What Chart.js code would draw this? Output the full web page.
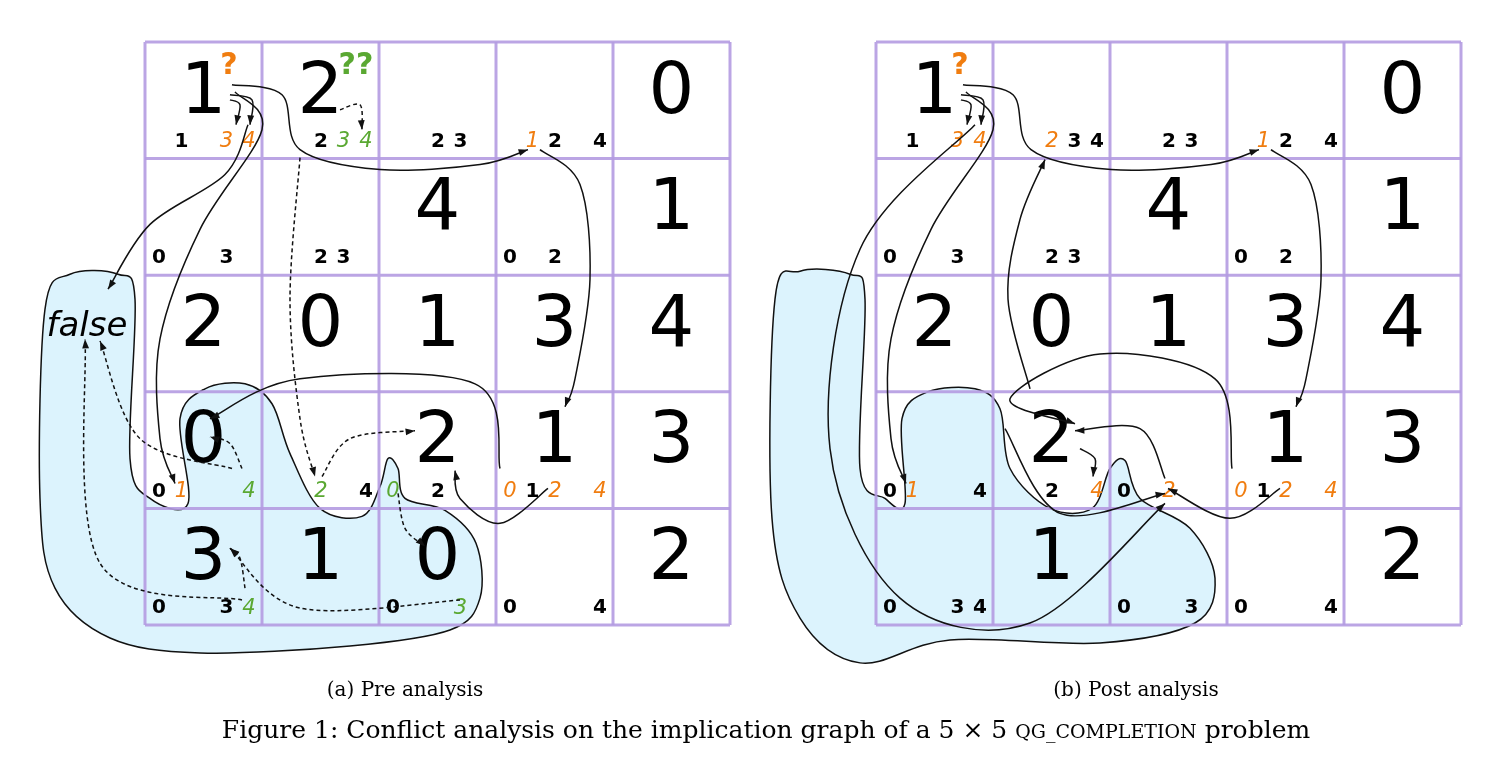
<!DOCTYPE html>
<html><head><meta charset="utf-8">
<script src="https://cdn.jsdelivr.net/npm/chart.js@4.4.0/dist/chart.umd.min.js"></script>
<style>html,body{margin:0;background:#fff}#c{display:block}</style>
</head><body>
<canvas id="c" width="1504" height="763"></canvas>
<script>
// diagram units: one cell = 117 units, grids start at 145 (left) and 876 (right)
const gridLeft = [145, 876];
const cell = 117;

// big digits per grid, row by row ('' = empty)
const bigLeft = [['1','2','','','0'],['','','4','','1'],['2','0','1','3','4'],['0','','2','1','3'],['3','1','0','','2']];
const bigRight = [['1','','','','0'],['','','4','','1'],['2','0','1','3','4'],['','2','','1','3'],['','1','','','2']];

// candidates: [row, col, digit, colour k=black o=orange g=green]
const candLeft = [
  [0,0,1,'k'],[0,0,3,'o'],[0,0,4,'o'],[0,1,2,'k'],[0,1,3,'g'],[0,1,4,'g'],[0,2,2,'k'],[0,2,3,'k'],
  [0,3,1,'o'],[0,3,2,'k'],[0,3,4,'k'],[1,0,0,'k'],[1,0,3,'k'],[1,1,2,'k'],[1,1,3,'k'],[1,3,0,'k'],[1,3,2,'k'],
  [3,0,0,'k'],[3,0,1,'o'],[3,0,4,'g'],[3,1,2,'g'],[3,1,4,'k'],[3,2,0,'g'],[3,2,2,'k'],
  [3,3,0,'o'],[3,3,1,'k'],[3,3,2,'o'],[3,3,4,'o'],[4,0,0,'k'],[4,0,3,'k'],[4,0,4,'g'],[4,2,0,'k'],[4,2,3,'g'],[4,3,0,'k'],[4,3,4,'k']];
const candRight = [
  [0,0,1,'k'],[0,0,3,'o'],[0,0,4,'o'],[0,1,2,'o'],[0,1,3,'k'],[0,1,4,'k'],[0,2,2,'k'],[0,2,3,'k'],
  [0,3,1,'o'],[0,3,2,'k'],[0,3,4,'k'],[1,0,0,'k'],[1,0,3,'k'],[1,1,2,'k'],[1,1,3,'k'],[1,3,0,'k'],[1,3,2,'k'],
  [3,0,0,'k'],[3,0,1,'o'],[3,0,4,'k'],[3,1,2,'k'],[3,1,4,'o'],[3,2,0,'k'],[3,2,2,'o'],
  [3,3,0,'o'],[3,3,1,'k'],[3,3,2,'o'],[3,3,4,'o'],[4,0,0,'k'],[4,0,3,'k'],[4,0,4,'k'],[4,2,0,'k'],[4,2,3,'k'],[4,3,0,'k'],[4,3,4,'k']];

// conflict regions (outline points)
const blobLeft = [[45,310],[70,275],[118,275],[135,300],[130,460],[150,500],[188,505],[180,420],[205,390],[245,385],[272,405],[290,455],[320,510],[362,518],[380,488],[388,460],[398,470],[405,500],[445,512],[476,545],[480,600],[450,632],[350,648],[200,655],[110,640],[55,590],[40,500]];
const blobRight = [[775,300],[800,272],[850,275],[865,300],[860,470],[885,500],[905,505],[902,420],[928,393],[975,390],[1000,410],[1010,470],[1050,510],[1092,510],[1110,470],[1125,462],[1140,500],[1190,530],[1215,580],[1195,625],[1100,645],[950,642],[860,665],[800,620],[772,520]];

// implication arrows [points, dashed]
const arrowsLeft = [
  [[[248,125],[225,175],[150,225],[108,290]],false],
  [[[235,92],[262,130],[200,230],[160,340],[160,440],[175,485]],false],
  [[[232,85],[282,95],[300,150],[380,170],[480,165],[528,150]],false],
  [[[540,150],[580,185],[590,280],[575,380],[565,408]],false],
  [[[500,470],[475,385],[300,380],[210,420]],false],
  [[[548,490],[500,525],[460,500],[455,472]],false],
  [[[300,158],[290,300],[300,420],[315,478]],true],
  [[[322,478],[350,440],[415,432]],true],
  [[[398,495],[405,530],[425,548]],true],
  [[[242,602],[100,565],[85,340]],true],
  [[[232,470],[140,440],[100,342]],true],
  [[[242,470],[230,445],[210,438]],true],
  [[[245,590],[240,560],[230,550]],true],
  [[[460,602],[300,610],[230,550]],true],
  [[[340,110],[360,105],[362,130]],true],
  [[[230,100],[240,105],[236,125]],false],
  [[[230,95],[252,100],[250,125]],false]];
const arrowsRight = [
  [[[966,92],[993,130],[931,230],[891,340],[891,440],[906,485]],false],
  [[[963,85],[1013,95],[1031,150],[1111,170],[1211,165],[1259,150]],false],
  [[[1271,150],[1311,185],[1321,280],[1306,380],[1296,408]],false],
  [[[1232,470],[1215,380],[1100,355],[1010,400],[1075,425]],false],
  [[[1280,490],[1230,520],[1168,490]],false],
  [[[1030,390],[1008,300],[1020,220],[1045,160]],false],
  [[[975,125],[860,250],[830,450],[900,600],[1030,625],[1165,505]],false],
  [[[1005,430],[1060,515],[1165,495]],false],
  [[[1165,480],[1140,430],[1075,432]],false],
  [[[1080,450],[1095,460],[1093,478]],false],
  [[[961,100],[971,105],[967,125]],false],
  [[[961,95],[983,100],[981,125]],false]];

const colours = {k: '#000', o: '#f07d10', g: '#5aa832'};

function spline(ctx, pts, closed) {
  const n = pts.length;
  const P = i => closed ? pts[(i + n) % n] : pts[Math.max(0, Math.min(n - 1, i))];
  ctx.moveTo(pts[0][0], pts[0][1]);
  const segs = closed ? n : n - 1;
  for (let i = 0; i < segs; i++) {
    const p0 = P(i - 1), p1 = P(i), p2 = P(i + 1), p3 = P(i + 2);
    ctx.bezierCurveTo(p1[0] + (p2[0] - p0[0]) / 6, p1[1] + (p2[1] - p0[1]) / 6,
      p2[0] - (p3[0] - p1[0]) / 6, p2[1] - (p3[1] - p1[1]) / 6, p2[0], p2[1]);
  }
}

const diagram = {
  id: 'diagram',
  afterDraw(chart) {
    const ctx = chart.ctx, xs = chart.scales.x, ys = chart.scales.y;
    const px = p => [xs.getPixelForValue(p[0]), ys.getPixelForValue(p[1])];
    ctx.save();
    // regions
    [blobLeft, blobRight].forEach(b => {
      ctx.beginPath(); spline(ctx, b.map(px), true); ctx.closePath();
      ctx.fillStyle = '#dcf3fd'; ctx.fill();
      ctx.strokeStyle = '#111'; ctx.lineWidth = 1.5; ctx.stroke();
    });
    // grids
    ctx.strokeStyle = 'rgba(180,155,225,0.9)'; ctx.lineWidth = 3;
    gridLeft.forEach(g => {
      for (let k = 0; k <= 5; k++) {
        ctx.beginPath();
        let a = px([g + k * cell, 42]), b = px([g + k * cell, 42 + 5 * cell]);
        ctx.moveTo(a[0], a[1]); ctx.lineTo(b[0], b[1]);
        a = px([g, 42 + k * cell]); b = px([g + 5 * cell, 42 + k * cell]);
        ctx.moveTo(a[0], a[1]); ctx.lineTo(b[0], b[1]); ctx.stroke();
      }
    });
    // digits
    ctx.textAlign = 'center'; ctx.textBaseline = 'middle';
    [[bigLeft, candLeft, 0], [bigRight, candRight, 1]].forEach(([big, cand, gi]) => {
      const g = gridLeft[gi];
      ctx.fillStyle = '#000'; ctx.font = '72px "DejaVu Sans"';
      big.forEach((row, r) => row.forEach((d, c) => {
        if (!d) return;
        const p = px([g + c * cell + cell / 2, 42 + r * cell + 52]);
        ctx.fillText(d, p[0], p[1]);
      }));
      cand.forEach(([r, c, d, k]) => {
        const p = px([g + c * cell + 14 + 22.5 * d, 42 + r * cell + 100]);
        ctx.fillStyle = colours[k];
        ctx.font = k === 'k' ? 'bold 20px "DejaVu Sans"' : 'oblique 21px "DejaVu Sans"';
        ctx.fillText(String(d), p[0], p[1]);
      });
      ctx.font = 'bold 30px "DejaVu Sans"'; ctx.fillStyle = colours.o;
      let q = px([g + 84, 66]); ctx.fillText('?', q[0], q[1]);
      if (gi === 0) {
        ctx.fillStyle = colours.g; q = px([g + 211, 66]); ctx.fillText('??', q[0], q[1]);
      }
    });
    ctx.fillStyle = '#000'; ctx.font = 'oblique 34px "DejaVu Sans"';
    let f = px([87, 328]); ctx.fillText('false', f[0], f[1]);
    // arrows
    ctx.strokeStyle = '#111'; ctx.fillStyle = '#111'; ctx.lineWidth = 1.5;
    arrowsLeft.concat(arrowsRight).forEach(([pts, dashed]) => {
      const pp = pts.map(px);
      ctx.setLineDash(dashed ? [4, 3] : []);
      ctx.beginPath(); spline(ctx, pp, false); ctx.stroke();
      ctx.setLineDash([]);
      const e = pp[pp.length - 1], s = pp[pp.length - 2];
      const a = Math.atan2(e[1] - s[1], e[0] - s[0]);
      ctx.beginPath(); ctx.moveTo(e[0], e[1]);
      ctx.lineTo(e[0] - 10 * Math.cos(a - 0.35), e[1] - 10 * Math.sin(a - 0.35));
      ctx.lineTo(e[0] - 10 * Math.cos(a + 0.35), e[1] - 10 * Math.sin(a + 0.35));
      ctx.closePath(); ctx.fill();
    });
    // captions
    ctx.fillStyle = '#000'; ctx.font = '20px "DejaVu Serif"';
    ctx.fillText('(a) Pre analysis', 405, 691);
    ctx.fillText('(b) Post analysis', 1136, 691);
    ctx.textAlign = 'left';
    const big = '25px "DejaVu Serif"', small = '19px "DejaVu Serif"';
    const t1 = 'Figure 1: Conflict analysis on the implication graph of a 5 \u00d7 5 ';
    const t2 = 'QG_COMPLETION', t3 = ' problem';
    ctx.font = big; const w1 = ctx.measureText(t1).width, w3 = ctx.measureText(t3).width;
    ctx.font = small; const w2 = ctx.measureText(t2).width;
    let x0 = 766 - (w1 + w2 + w3) / 2;
    ctx.font = big; ctx.fillText(t1, x0, 731);
    ctx.font = small; ctx.fillText(t2, x0 + w1, 733);
    ctx.font = big; ctx.fillText(t3, x0 + w1 + w2, 731);
    ctx.restore();
  }
};

new Chart(document.getElementById('c'), {
  type: 'scatter',
  data: { datasets: [{ data: [], pointRadius: 0 }] },
  options: {
    responsive: false, animation: false,
    layout: { padding: { left: 145, right: 44, top: 42, bottom: 138 } },
    scales: {
      x: { type: 'linear', min: 145, max: 1460, display: false },
      y: { type: 'linear', min: 42, max: 627, reverse: true, display: false }
    },
    plugins: { legend: { display: false }, tooltip: { enabled: false } }
  },
  plugins: [diagram]
});
</script>
</body></html>
